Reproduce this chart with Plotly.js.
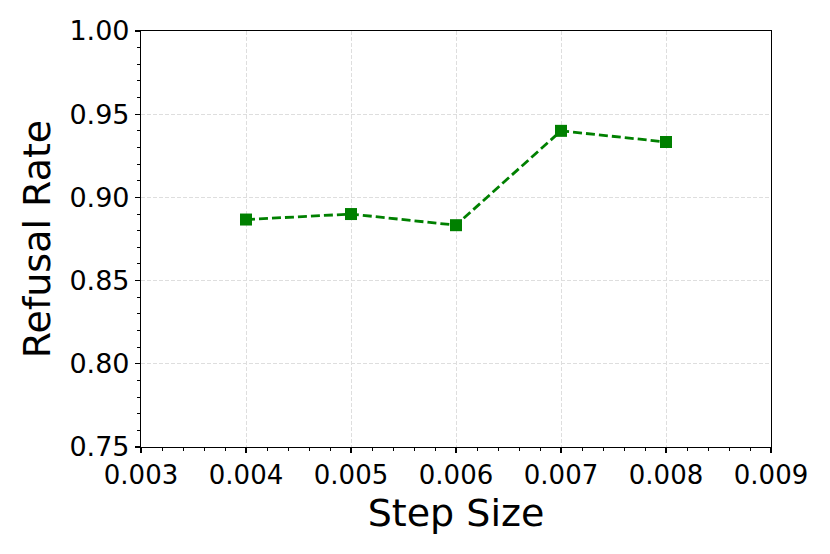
<!DOCTYPE html>
<html>
<head>
<meta charset="utf-8">
<script src="https://cdn.plot.ly/plotly-3.0.1.min.js"></script>
<style>
  html, body { margin: 0; padding: 0; background: #fff; }
  #chart { width: 830px; height: 554px; }
</style>
</head>
<body>
<div id="chart"></div>
<script>
// step sizes and measured refusal rates
const stepSizes = [0.004, 0.005, 0.006, 0.007, 0.008];
const refusalRates = [0.8867, 0.8900, 0.8833, 0.9400, 0.9333];

const xTicks = [0.003, 0.004, 0.005, 0.006, 0.007, 0.008, 0.009];
const yTicks = [0.75, 0.80, 0.85, 0.90, 0.95, 1.00];

const font = 'DejaVu Sans, sans-serif';

const data = [{
  x: stepSizes,
  y: refusalRates,
  type: 'scatter',
  mode: 'lines+markers',
  line: {color: '#008000', width: 2.8, dash: '9px,4px'},
  marker: {symbol: 'square', size: 12, color: '#008000'},
  hoverinfo: 'none'
}];

const layout = {
  width: 830,
  height: 554,
  margin: {l: 141, r: 59, t: 31, b: 107},
  paper_bgcolor: '#fff',
  plot_bgcolor: '#fff',
  showlegend: false,
  font: {family: font, color: '#000'},
  xaxis: {
    range: [0.003, 0.009],
    tickvals: xTicks,
    ticktext: xTicks.map(v => v.toFixed(3)),
    ticks: 'outside',
    ticklen: 5,
    tickwidth: 1.1,
    tickcolor: '#000',
    tickfont: {size: 26, family: font},
    showline: true,
    linecolor: '#000',
    linewidth: 1.1,
    mirror: true,
    showgrid: true,
    gridcolor: '#dedede',
    griddash: '4px,2px',
    gridwidth: 1,
    zeroline: false,
    minor: {dtick: 0.0002, ticks: 'outside', ticklen: 3, tickwidth: 1, tickcolor: '#000', showgrid: false},
    title: {text: 'Step Size', font: {size: 38, family: font}, standoff: 10}
  },
  yaxis: {
    range: [0.75, 1.00],
    tickvals: yTicks,
    ticktext: yTicks.map(v => v.toFixed(2)),
    ticks: 'outside',
    ticklen: 5,
    tickwidth: 1.1,
    tickcolor: '#000',
    tickfont: {size: 27, family: font},
    showline: true,
    linecolor: '#000',
    linewidth: 1.1,
    mirror: true,
    showgrid: true,
    gridcolor: '#dedede',
    griddash: '4px,2px',
    gridwidth: 1,
    zeroline: false,
    minor: {dtick: 0.01, ticks: 'outside', ticklen: 3, tickwidth: 1, tickcolor: '#000', showgrid: false},
    title: {text: 'Refusal Rate', font: {size: 38, family: font}, standoff: 7}
  }
};

Plotly.newPlot('chart', data, layout, {displayModeBar: false, staticPlot: true});
</script>
</body>
</html>
